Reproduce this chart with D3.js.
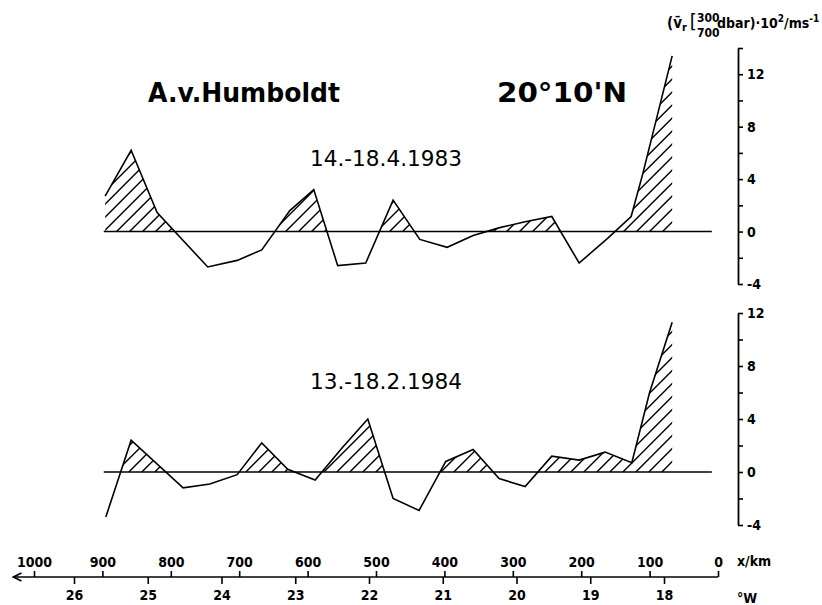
<!DOCTYPE html>
<meta charset="utf-8">
<style>
  body { margin: 0; background: #fff; }
  svg text { font-family: "Liberation Sans Narrow", "DejaVu Sans Condensed", sans-serif; fill: #000; }
</style>
<script src="https://d3js.org/d3.v7.min.js"></script>
<div id="chart"></div>
<script>
// distance from coast (km) of the stations
var km1983 = [896, 858, 820, 746, 703, 667, 626, 591, 556, 515, 475, 436, 396, 358, 319, 282, 243, 203, 161, 127, 110, 67];
var v1983  = [2.7, 6.2, 1.45, -2.7, -2.2, -1.4, 1.6, 3.2, -2.6, -2.4, 2.4, -0.6, -1.2, -0.3, 0.3, 0.75, 1.15, -2.4, -0.5, 1.15, 4.4, 13.4];

var km1984 = [895, 858, 782, 743, 703, 667, 629, 589, 550, 512, 475, 437, 398, 358, 320, 282, 243, 203, 165, 126, 100, 67];
var v1984  = [-3.4, 2.4, -1.2, -0.9, -0.2, 2.2, 0.2, -0.6, 1.8, 4.0, -2.0, -2.9, 0.8, 1.7, -0.5, -1.1, 1.2, 0.9, 1.5, 0.7, 6.0, 11.3];

var kmTicks = [1000, 900, 800, 700, 600, 500, 400, 300, 200, 100, 0];
var lonTicks = [26, 25, 24, 23, 22, 21, 20, 19, 18];

var width = 822, height = 605;

var svg = d3.select("#chart").append("svg")
    .attr("width", width)
    .attr("height", height);

// x scales
var x = d3.scaleLinear().domain([0, 1000]).range([718, 34]);
var xLon = d3.scaleLinear().domain([18, 26]).range([664, 74]);

// one y scale per panel
var yTop = d3.scaleLinear().domain([-4, 14]).range([284, 48]);
var yBot = d3.scaleLinear().domain([-4, 12]).range([525, 313]);

// positive part polygon (with zero crossings) for the hatch clip
function positivePoints(kms, vals) {
    var pts = [];
    for (var i = 0; i < kms.length; i++) {
        if (i > 0 && (vals[i - 1] > 0) != (vals[i] > 0)) {
            var t = vals[i - 1] / (vals[i - 1] - vals[i]);
            pts.push([kms[i - 1] + t * (kms[i] - kms[i - 1]), 0]);
        }
        pts.push([kms[i], Math.max(0, vals[i])]);
    }
    return pts;
}

function drawPanel(id, kms, vals, y) {
    var g = svg.append("g");
    var data = kms.map(function (d, i) { return [d, vals[i]]; });

    var area = d3.area()
        .x(function (d) { return x(d[0]); })
        .y0(y(0))
        .y1(function (d) { return y(d[1]); });

    svg.append("clipPath").attr("id", "clip" + id)
        .append("path")
        .attr("d", area(positivePoints(kms, vals)));

    // hatching lines "/"
    var step = 13;
    var x0 = x(d3.max(kms)), x1 = x(d3.min(kms));
    var h = y(0) - y(y.domain()[1]);
    var starts = d3.range(x0 - h, x1 + step, step);
    g.append("g")
        .attr("clip-path", "url(#clip" + id + ")")
        .selectAll("line")
        .data(starts)
        .enter()
        .append("line")
        .attr("x1", function (d) { return d; })
        .attr("y1", y(0))
        .attr("x2", function (d) { return d + h; })
        .attr("y2", y(0) - h)
        .attr("stroke", "#000")
        .attr("stroke-width", 1.4);

    // zero line
    g.append("line")
        .attr("x1", x(km1983[0] + 2))
        .attr("x2", x(9))
        .attr("y1", y(0))
        .attr("y2", y(0))
        .attr("stroke", "#000")
        .attr("stroke-width", 1.6);

    // profile
    g.append("path")
        .datum(data)
        .attr("fill", "none")
        .attr("stroke", "#000")
        .attr("stroke-width", 1.6)
        .attr("stroke-linejoin", "miter")
        .attr("d", d3.line()
            .x(function (d) { return x(d[0]); })
            .y(function (d) { return y(d[1]); }));

    // right axis
    var dom = y.domain();
    var ticks = d3.range(dom[0], dom[1] + 1, 2);
    var ax = g.append("g")
        .attr("transform", "translate(738,0)")
        .call(d3.axisRight(y)
            .tickValues(ticks)
            .tickSize(5)
            .tickSizeOuter(0)
            .tickPadding(4)
            .tickFormat(function (d) { return (d + 4) % 4 == 0 ? d : ""; }));
    ax.select(".domain").attr("stroke-width", 1.8);
    ax.selectAll(".tick line").attr("stroke-width", 1.6);
    ax.selectAll(".tick text")
        .style("font-size", "14px")
        .style("font-weight", "bold");
}

drawPanel("a", km1983, v1983, yTop);
drawPanel("b", km1984, v1984, yBot);

// titles
svg.append("text")
    .attr("x", 148).attr("y", 102)
    .attr("textLength", 192).attr("lengthAdjust", "spacingAndGlyphs")
    .style("font-family", "'DejaVu Sans', sans-serif")
    .style("font-size", "26px").style("font-weight", "bold")
    .text("A.v.Humboldt");
svg.append("text")
    .attr("x", 497).attr("y", 102)
    .attr("textLength", 130).attr("lengthAdjust", "spacingAndGlyphs")
    .style("font-family", "'DejaVu Sans', sans-serif")
    .style("font-size", "26px").style("font-weight", "bold")
    .text("20°10'N");

svg.append("text")
    .attr("x", 310).attr("y", 166)
    .attr("textLength", 152).attr("lengthAdjust", "spacingAndGlyphs")
    .style("font-family", "'DejaVu Sans Condensed', sans-serif")
    .style("font-size", "21px")
    .text("14.-18.4.1983");
svg.append("text")
    .attr("x", 310).attr("y", 389)
    .attr("textLength", 152).attr("lengthAdjust", "spacingAndGlyphs")
    .style("font-family", "'DejaVu Sans Condensed', sans-serif")
    .style("font-size", "21px")
    .text("13.-18.2.1984");

// unit label top right
var u = svg.append("text")
    .attr("x", 667).attr("y", 28)
    .style("font-size", "15px").style("font-weight", "bold");
u.append("tspan").text("(v\u0304");
u.append("tspan").attr("dy", 3).style("font-size", "11px").text("r");
u.append("tspan").attr("dy", -3).style("font-weight", "normal").style("font-size", "20px").attr("dx", 3).text("[");
svg.append("text").attr("x", 697).attr("y", 22).style("font-size", "12px").style("font-weight", "bold").text("300");
svg.append("text").attr("x", 697).attr("y", 37).style("font-size", "12px").style("font-weight", "bold").text("700");
var u2 = svg.append("text")
    .attr("x", 717).attr("y", 28)
    .style("font-size", "14px").style("font-weight", "bold");
u2.append("tspan").text("dbar)\u00b710");
u2.append("tspan").attr("dy", -6).style("font-size", "10px").text("2");
u2.append("tspan").attr("dy", 6).text("/ms");
u2.append("tspan").attr("dy", -6).style("font-size", "10px").text("-1");

// bottom axes
svg.append("defs").append("marker")
    .attr("id", "arrow")
    .attr("viewBox", "0 0 10 10")
    .attr("refX", 9).attr("refY", 5)
    .attr("markerWidth", 10).attr("markerHeight", 10)
    .attr("markerUnits", "userSpaceOnUse")
    .attr("orient", "auto")
    .append("path")
    .attr("d", "M1,1 L9,5 L1,9")
    .attr("fill", "none")
    .attr("stroke", "#000")
    .attr("stroke-width", 1.6);

var axY = 577;
svg.append("line")
    .attr("x1", x(0)).attr("x2", x(1030))
    .attr("y1", axY).attr("y2", axY)
    .attr("stroke", "#000").attr("stroke-width", 1.6)
    .attr("marker-end", "url(#arrow)");

var kmAxis = svg.append("g")
    .attr("transform", "translate(0," + axY + ")")
    .call(d3.axisTop(x).tickValues(kmTicks).tickSize(6).tickSizeOuter(0).tickPadding(4)
        .tickFormat(d3.format("d")));
var lonAxis = svg.append("g")
    .attr("transform", "translate(0," + axY + ")")
    .call(d3.axisBottom(xLon).tickValues(lonTicks).tickSize(7).tickSizeOuter(0).tickPadding(6));
[kmAxis, lonAxis].forEach(function (a) {
    a.select(".domain").remove();
    a.selectAll(".tick line").attr("stroke-width", 1.6);
    a.selectAll(".tick text").style("font-size", "14px").style("font-weight", "bold");
});

svg.append("text").attr("x", 737).attr("y", 566)
    .style("font-size", "14px").style("font-weight", "bold").text("x/km");
svg.append("text").attr("x", 737).attr("y", 603)
    .style("font-size", "14px").style("font-weight", "bold").text("\u00b0W");
</script>
